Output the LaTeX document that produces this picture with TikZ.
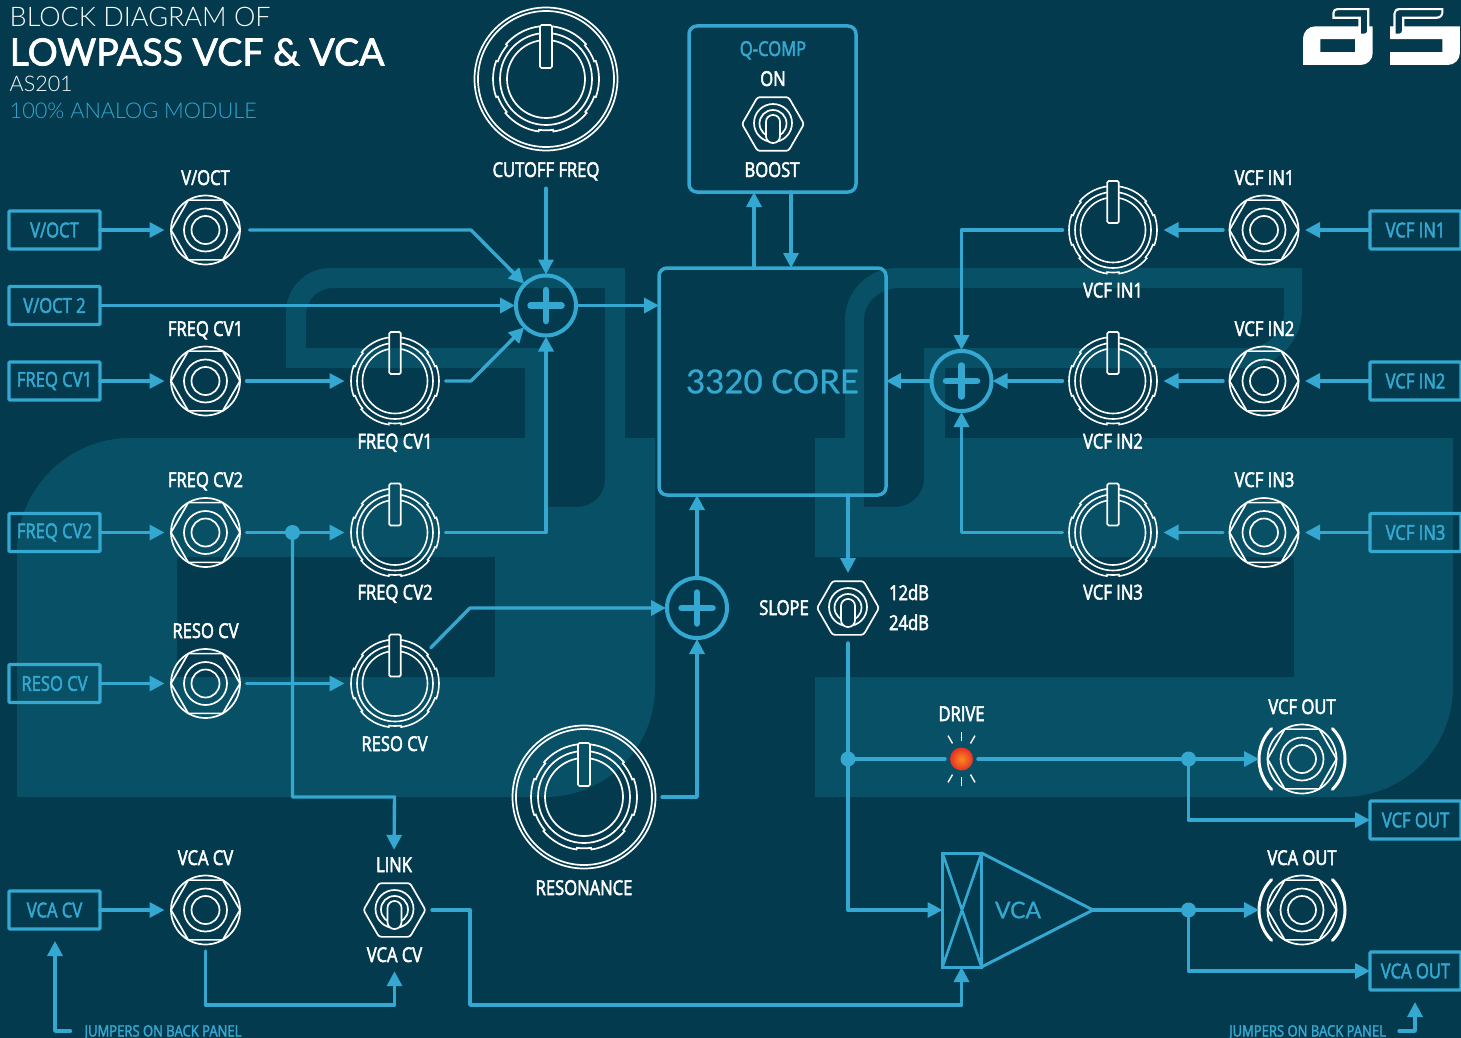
\documentclass[tikz,border=0pt]{standalone}
\usepackage{fontspec}
\usetikzlibrary{arrows.meta}
\setmainfont{Lato}
\newfontfamily\lblfont[FakeStretch=0.81,FakeBold=2.4]{Open Sans}
\newfontfamily\jmpfont[FakeStretch=0.83,FakeBold=2]{Open Sans}
\newfontfamily\titlefont{Lato Light}
\newfontfamily\titlebold[FakeBold=2]{Lato}
\newfontfamily\coremed[FakeBold=0.8]{Lato}
\definecolor{bgc}{RGB}{3,58,78}
\definecolor{wmc}{RGB}{8,80,102}
\definecolor{cline}{RGB}{52,168,208}
\definecolor{ledin}{RGB}{248,140,30}
\definecolor{ledout}{RGB}{232,48,36}
\newcommand{\logoshape}{
 (17,797) -- (545,797) .. controls (606,797) and (655,748) .. (655,687) -- (655,438) -- (625,438) -- (625,268) -- (330,268) .. controls (306,268) and (286,288) .. (286,312) -- (286,368) -- (525,368) -- (525,438) -- (130,438) .. controls (68,438) and (17,489) .. (17,551) -- cycle
 (177,557) -- (495,557) -- (495,677) -- (177,677) -- cycle
 (333,288) -- (605,288) -- (605,480) .. controls (605,495) and (592,507) .. (577,507) -- (547,507) -- (547,348) -- (306,348) -- (306,315) .. controls (306,300) and (318,288) .. (333,288) -- cycle
 (815,797) -- (1343,797) .. controls (1404,797) and (1453,748) .. (1453,687) -- (1453,438) -- (945,438) -- (945,368) -- (1244,368) .. controls (1276,368) and (1302,342) .. (1302,310) -- (1302,268) -- (897,268) .. controls (868,268) and (845,291) .. (845,320) -- (845,438) -- (815,438) -- (815,557) -- (1294,557) -- (1294,677) -- (815,677) -- cycle
 (900,288) -- (1284,288) -- (1284,312) .. controls (1284,332) and (1268,348) .. (1244,348) -- (924,348) -- (924,478) .. controls (924,495) and (911,507) .. (894,507) -- (864,507) -- (864,320) .. controls (864,302) and (880,288) .. (900,288) -- cycle
}
% R, r: scalloped ring radii
\newcommand{\scallop}[2]{(41:#1pt) arc[start angle=41,end angle=139,radius=#1pt] -- (139:#2pt) arc[start angle=139,end angle=160,radius=#2pt] -- (160:#1pt) arc[start angle=160,end angle=200,radius=#1pt] -- (200:#2pt) arc[start angle=200,end angle=220,radius=#2pt] -- (220:#1pt) arc[start angle=220,end angle=262,radius=#1pt] -- (262:#2pt) arc[start angle=262,end angle=278,radius=#2pt] -- (278:#1pt) arc[start angle=278,end angle=320,radius=#1pt] -- (320:#2pt) arc[start angle=320,end angle=340,radius=#2pt] -- (340:#1pt) arc[start angle=340,end angle=380,radius=#1pt] -- (20:#2pt) arc[start angle=20,end angle=41,radius=#2pt] -- cycle}
\tikzset{
 wl/.style={draw=white,line width=1.7pt},
 conn/.style={draw=cline,line width=3.4pt,line cap=round,line join=round},
 tip/.style={conn,-{Triangle[length=15pt,width=15pt]}},
 lbl/.style={text=white,inner sep=0pt,text height=14pt,text depth=0pt,font=\lblfont\fontsize{20.5pt}{21pt}\selectfont},
 blbl/.style={lbl,text=cline},
 jmp/.style={lbl,text=cline,text height=11pt,font=\jmpfont\fontsize{15.7pt}{16pt}\selectfont},
 boxn/.style={draw=cline,line width=3.2pt,outer sep=0pt,minimum width=91pt,minimum height=38pt,rounded corners=1pt,inner sep=0pt,text=cline,font=\lblfont\fontsize{20.5pt}{21pt}\selectfont},
 jackn/.style={circle,minimum size=82pt,inner sep=0pt,outer sep=0pt},
 ojackn/.style={circle,minimum size=86pt,inner sep=0pt,outer sep=0pt},
 knobn/.style={circle,minimum size=101pt,inner sep=0pt,outer sep=0pt},
 bigknobn/.style={circle,minimum size=156pt,inner sep=0pt,outer sep=0pt},
 swn/.style={circle,minimum size=70pt,inner sep=0pt,outer sep=0pt},
 sumn/.style={circle,draw=cline,line width=4pt,outer sep=1pt,minimum size=60pt,inner sep=0pt},
 dotn/.style={circle,fill=cline,minimum size=15pt,inner sep=0pt,outer sep=0pt},
 jackpic/.pic={
  \draw[wl] (0,0) circle (34.5pt) (0,0) circle (21.5pt) (0,0) circle (14pt);
  \draw[wl,line join=round] (0:34.5pt) -- (60:34.5pt) -- (120:34.5pt) -- (180:34.5pt) -- (240:34.5pt) -- (300:34.5pt) -- cycle;
 },
 ojackpic/.pic={
  \draw[wl] (0,0) circle (34.5pt) (0,0) circle (21.5pt) (0,0) circle (14pt);
  \draw[wl,line join=round] (0:34.5pt) -- (60:34.5pt) -- (120:34.5pt) -- (180:34.5pt) -- (240:34.5pt) -- (300:34.5pt) -- cycle;
  \draw[draw=white,line width=3pt,line cap=round] (-45:43pt) arc[start angle=-45,end angle=45,radius=43pt];
  \draw[draw=white,line width=3pt,line cap=round] (135:43pt) arc[start angle=135,end angle=225,radius=43pt];
 },
 knobpic/.pic={
  \begin{scope}
   \clip (-100pt,-100pt) -- (100pt,-100pt) -- (100pt,100pt) -- (-100pt,100pt) -- cycle (-5.8pt,7pt) -- (-5.8pt,49pt) -- (5.8pt,49pt) -- (5.8pt,7pt) -- cycle;
   \draw[wl,line width=1.6pt] \scallop{44}{42.5};
   \draw[wl,line width=1.6pt] (0,0) circle (38pt) (0,0) circle (32.5pt);
  \end{scope}
  \draw[wl,rounded corners=1.5pt] (-5.8pt,7pt) -- (-5.8pt,49pt) -- (5.8pt,49pt) -- (5.8pt,7pt) -- cycle;
 },
 bigknobpic/.pic={
  \draw[wl,line width=1.7pt] (0,0) circle (71.5pt) (0,0) circle (68pt);
  \begin{scope}
   \clip (-100pt,-100pt) -- (100pt,-100pt) -- (100pt,100pt) -- (-100pt,100pt) -- cycle (-6pt,11pt) -- (-6pt,54pt) -- (6pt,54pt) -- (6pt,11pt) -- cycle;
   \draw[wl,line width=1.7pt] \scallop{53}{51.3};
   \draw[wl,line width=1.7pt] (0,0) circle (46pt) (0,0) circle (39pt);
  \end{scope}
  \draw[wl,rounded corners=1.5pt] (-6pt,11pt) -- (-6pt,54pt) -- (6pt,54pt) -- (6pt,11pt) -- cycle;
 },
 swpic/.pic={
  \draw[wl,rounded corners=2.5pt] (0:31pt) -- (60:31pt) -- (120:31pt) -- (180:31pt) -- (240:31pt) -- (300:31pt) -- cycle;
  \draw[wl] (0pt,1pt) circle (19pt) (0pt,0.5pt) circle (13.5pt);
  \draw[wl,fill=bgc,rounded corners=6.8pt] (-7pt,-19pt) -- (-7pt,9pt) -- (7pt,9pt) -- (7pt,-19pt) -- cycle;
 },
 pluspic/.pic={
  \draw[draw=cline,line width=6.5pt,line cap=round] (-15.5pt,0pt) -- (15.5pt,0pt) (0pt,-15.5pt) -- (0pt,15.5pt);
 },
 rayspic/.pic={
  \foreach \a in {60,90,120,240,270,300}
   \draw[draw=white,line width=1.4pt] (\a:18pt) -- (\a:27pt);
 },
}
\begin{document}
\begin{tikzpicture}[x=1pt,y=-1pt]
\useasboundingbox (0,0) rectangle (1461,1038);
\fill[bgc] (0,0) rectangle (1461,1038);
\fill[wmc,even odd rule] \logoshape;
\begin{scope}[shift={(1301.14,-20.86)},xscale=0.1092,yscale=0.1077]
 \fill[white,even odd rule] \logoshape;
\end{scope}

% title
\node[anchor=base west,inner sep=0pt,text=white,font=\titlefont\fontsize{27pt}{27pt}\selectfont] (t1) at (9.5,27) {BLOCK DIAGRAM OF};
\node[anchor=base west,inner sep=0pt,text=white,font=\titlebold\fontsize{37.5pt}{38pt}\selectfont] (t2) at (9.5,65.5) {LOWPASS VCF \& VCA};
\node[anchor=base west,inner sep=0pt,text=white,font=\titlefont\fontsize{21.5pt}{22pt}\selectfont] (t3) at (9.5,91.5) {AS201};
\node[anchor=base west,inner sep=0pt,text=cline,font=\titlefont\fontsize{21.7pt}{22pt}\selectfont] (t4) at (9.5,118.5) {100\% ANALOG MODULE};

% boxes
\node[boxn] (bVoct) at (54.5,230) {V/OCT};
\node[boxn] (bVoctB) at (54.5,305.5) {V/OCT 2};
\node[boxn] (bFa) at (54.5,381) {FREQ CV1};
\node[boxn] (bFb) at (54.5,532.5) {FREQ CV2};
\node[boxn] (bRes) at (54.5,683.5) {RESO CV};
\node[boxn] (bVca) at (54.5,910) {VCA CV};
\node[boxn] (bIa) at (1415.5,230) {VCF IN1};
\node[boxn] (bIb) at (1415.5,381) {VCF IN2};
\node[boxn] (bIc) at (1415.5,532.5) {VCF IN3};
\node[boxn] (bOf) at (1415.5,820) {VCF OUT};
\node[boxn] (bOa) at (1415.5,971) {VCA OUT};

% jacks
\foreach \n/\x/\y in {jVoct/205.5/230,jFa/205.5/381,jFb/205.5/532.5,jRes/205.5/683.5,jVca/205.5/910,jIa/1264/230,jIb/1264/381,jIc/1264/532.5}{
 \node[jackn] (\n) at (\x,\y) {};
 \pic at (\x,\y) {jackpic};
}
\node[ojackn] (jOf) at (1302,759) {};
\pic at (1302,759) {ojackpic};
\node[ojackn] (jOa) at (1302,910) {};
\pic at (1302,910) {ojackpic};

% knobs
\foreach \n/\x/\y in {kFa/395/381,kFb/395/532.5,kRes/395/683.5,kIa/1113/230,kIb/1113/381,kIc/1113/532.5}{
 \node[knobn] (\n) at (\x,\y) {};
 \pic at (\x,\y) {knobpic};
}
\node[bigknobn] (kCut) at (546,79) {};
\pic at (546,79) {bigknobpic};
\node[bigknobn] (kReso) at (584,797) {};
\pic at (584,797) {bigknobpic};

% switches
\node[swn] (swQ) at (773,124) {};
\pic at (773,124) {swpic};
\node[swn] (swS) at (848,608) {};
\pic at (848,608) {swpic};
\node[swn,minimum size=75pt] (swL) at (394.5,910) {};
\pic at (394.5,910) {swpic};

% sums
\node[sumn] (sA) at (546,305.5) {};
\pic at (546,305.5) {pluspic};
\node[sumn] (sB) at (961.5,381) {};
\pic at (961.5,381) {pluspic};
\node[sumn] (sC) at (697,608) {};
\pic at (697,608) {pluspic};

% core and q-comp
\node[draw=cline,line width=3.5pt,outer sep=0pt,rounded corners=8pt,minimum width=227pt,minimum height=227pt,inner sep=0pt,text=cline,font=\coremed\fontsize{33pt}{34pt}\selectfont] (core) at (772.5,381.5) {3320 CORE};
\node[draw=cline,line width=3.5pt,outer sep=0pt,rounded corners=8pt,minimum width=167pt,minimum height=166pt,inner sep=0pt] (qbox) at (772.5,109) {};

% labels
\node[lbl] (lVoct) at (205.5,178) {V/OCT};
\node[lbl] (lFaJ) at (205.5,329) {FREQ CV1};
\node[lbl] (lFaK) at (395,441.5) {FREQ CV1};
\node[lbl] (lFbJ) at (205.5,480) {FREQ CV2};
\node[lbl] (lFbK) at (395,592.5) {FREQ CV2};
\node[lbl] (lRJ) at (205.5,631) {RESO CV};
\node[lbl] (lRK) at (394.5,744) {RESO CV};
\node[lbl] (lVJ) at (205.5,858) {VCA CV};
\node[lbl] (lLink) at (394,865) {LINK};
\node[lbl] (lVS) at (394.5,955) {VCA CV};
\node[lbl] (lCut) at (546,170) {CUTOFF FREQ};
\node[lbl] (lRes) at (584,888) {RESONANCE};
\node[blbl] (lQ) at (773,49) {Q-COMP};
\node[lbl] (lOn) at (773,79) {ON};
\node[lbl] (lBoost) at (772,170) {BOOST};
\node[lbl] (lSlope) at (784,608) {SLOPE};
\node[lbl] (l12) at (909,593) {12dB};
\node[lbl] (l24) at (909,623) {24dB};
\node[lbl] (lDrive) at (961.5,714) {DRIVE};
\node[lbl] (lOf) at (1302,707) {VCF OUT};
\node[lbl] (lOa) at (1302,858) {VCA OUT};
\node[lbl] (lIaJ) at (1264.5,178) {VCF IN1};
\node[lbl] (lIaK) at (1113,290.5) {VCF IN1};
\node[lbl] (lIbJ) at (1264.5,329) {VCF IN2};
\node[lbl] (lIbK) at (1113,441.5) {VCF IN2};
\node[lbl] (lIcJ) at (1264.5,480) {VCF IN3};
\node[lbl] (lIcK) at (1113,592.5) {VCF IN3};
\node[jmp] (jmpL) at (163,1031) {JUMPERS ON BACK PANEL};
\node[jmp] (jmpR) at (1307.5,1031) {JUMPERS ON BACK PANEL};

% LED
\node[circle,minimum size=23pt,inner sep=0pt,outer sep=5pt,shade,inner color=ledin,outer color=ledout] (led) at (961.5,759) {};
\pic at (961.5,759) {rayspic};

% VCA
\node[draw=cline,line width=3pt,outer sep=0pt,minimum width=39pt,minimum height=114pt,inner sep=0pt] (vrect) at (962,910) {};
\coordinate (vtip) at (1093,910);
\draw[conn,line width=3pt,line join=miter] (vrect.north east) -- (vtip) -- (vrect.south east);
\draw[conn,line width=2.6pt] (vrect.north west) -- (vrect.south east) (vrect.south west) -- (vrect.north east);
\node[text=cline,inner sep=0pt,font=\coremed\fontsize{23pt}{23pt}\selectfont] (vtxt) at (1018,910) {VCA};

% dots
\node[dotn] (dA) at (292.5,532.5) {};
\node[dotn] (dB) at (848,759) {};
\node[dotn] (dC) at (1188.5,759) {};
\node[dotn] (dD) at (1188.5,910) {};

% connectors left
\draw[tip] (bVoct) -- (jVoct);
\draw[tip,shorten <=3pt] (jVoct) -- (471,230) -- (sA.135);
\draw[tip,shorten <=11pt] (lCut.south) -- (sA.north);
\draw[tip] (bVoctB) -- (sA.west);
\draw[tip] (bFa) -- (jFa);
\draw[tip] (jFa) -- (kFa);
\draw[tip] (kFa) -- (471,381) -- (sA.225);
\draw[tip] (bFb) -- (jFb);
\draw[tip] (jFb) -- (kFb);
\draw[tip] (kFb.east) -| (sA.south);
\draw[tip,shorten >=8pt] (dA) -- (292.5,797) -- (394.5,797) -- (lLink.north);
\draw[tip] (bRes) -- (jRes);
\draw[tip] (jRes) -- (kRes);
\draw[tip] (kRes.45) -- (470,608) -- (sC.west);
\draw[tip] (kReso.east) -| (sC.south);
\draw[tip] (sC.north) -- (sC.north |- core.south);
\draw[tip] (sA.east) -- (core.west |- sA.east);
\draw[tip] (bVca) -- (jVca);
\draw[tip,shorten >=9pt] (jVca.south) -- (205.5,1005) -- (394.5,1005) -- (lVS.south);
\draw[tip] (swL.east) -- (470,910) -- (470,1005) -- (961.5,1005) -- (vrect.south -| 961.5,0);
\draw[tip,shorten <=14pt] (jmpL.west) -- (55,1031) -- (55,941);

% connectors centre
\coordinate (coreU) at (754,268);
\coordinate (coreD) at (791,268);
\draw[tip] (coreU) -- (coreU |- qbox.south);
\draw[tip] (coreD |- qbox.south) -- (coreD);
\draw[tip] (848,495) -- (swS.north);
\draw[conn] (swS.south) -- (dB);
\draw[tip] (dB) -- (848,910) -- (vrect.west);
\draw[conn] (dB) -- (led);
\draw[conn] (led) -- (dC);
\draw[tip] (dC) -- (jOf);
\draw[tip] (dC) -- (1188.5,820) -- (bOf.west);
\draw[conn] (vtip) -- (dD);
\draw[tip] (dD) -- (jOa);
\draw[tip] (dD) -- (1188.5,971) -- (bOa.west);
\draw[tip,shorten <=13pt] (jmpR.east) -- (1415,1031) -- (1415,1002);

% connectors right
\draw[tip] (bIa) -- (jIa);
\draw[tip] (jIa) -- (kIa);
\draw[tip] (kIa.west) -| (sB.north);
\draw[tip] (bIb) -- (jIb);
\draw[tip] (jIb) -- (kIb);
\draw[tip] (kIb) -- (sB);
\draw[tip] (bIc) -- (jIc);
\draw[tip] (jIc) -- (kIc);
\draw[tip] (kIc.west) -| (sB.south);
\draw[tip] (sB) -- (core.east |- sB);
\end{tikzpicture}
\end{document}
